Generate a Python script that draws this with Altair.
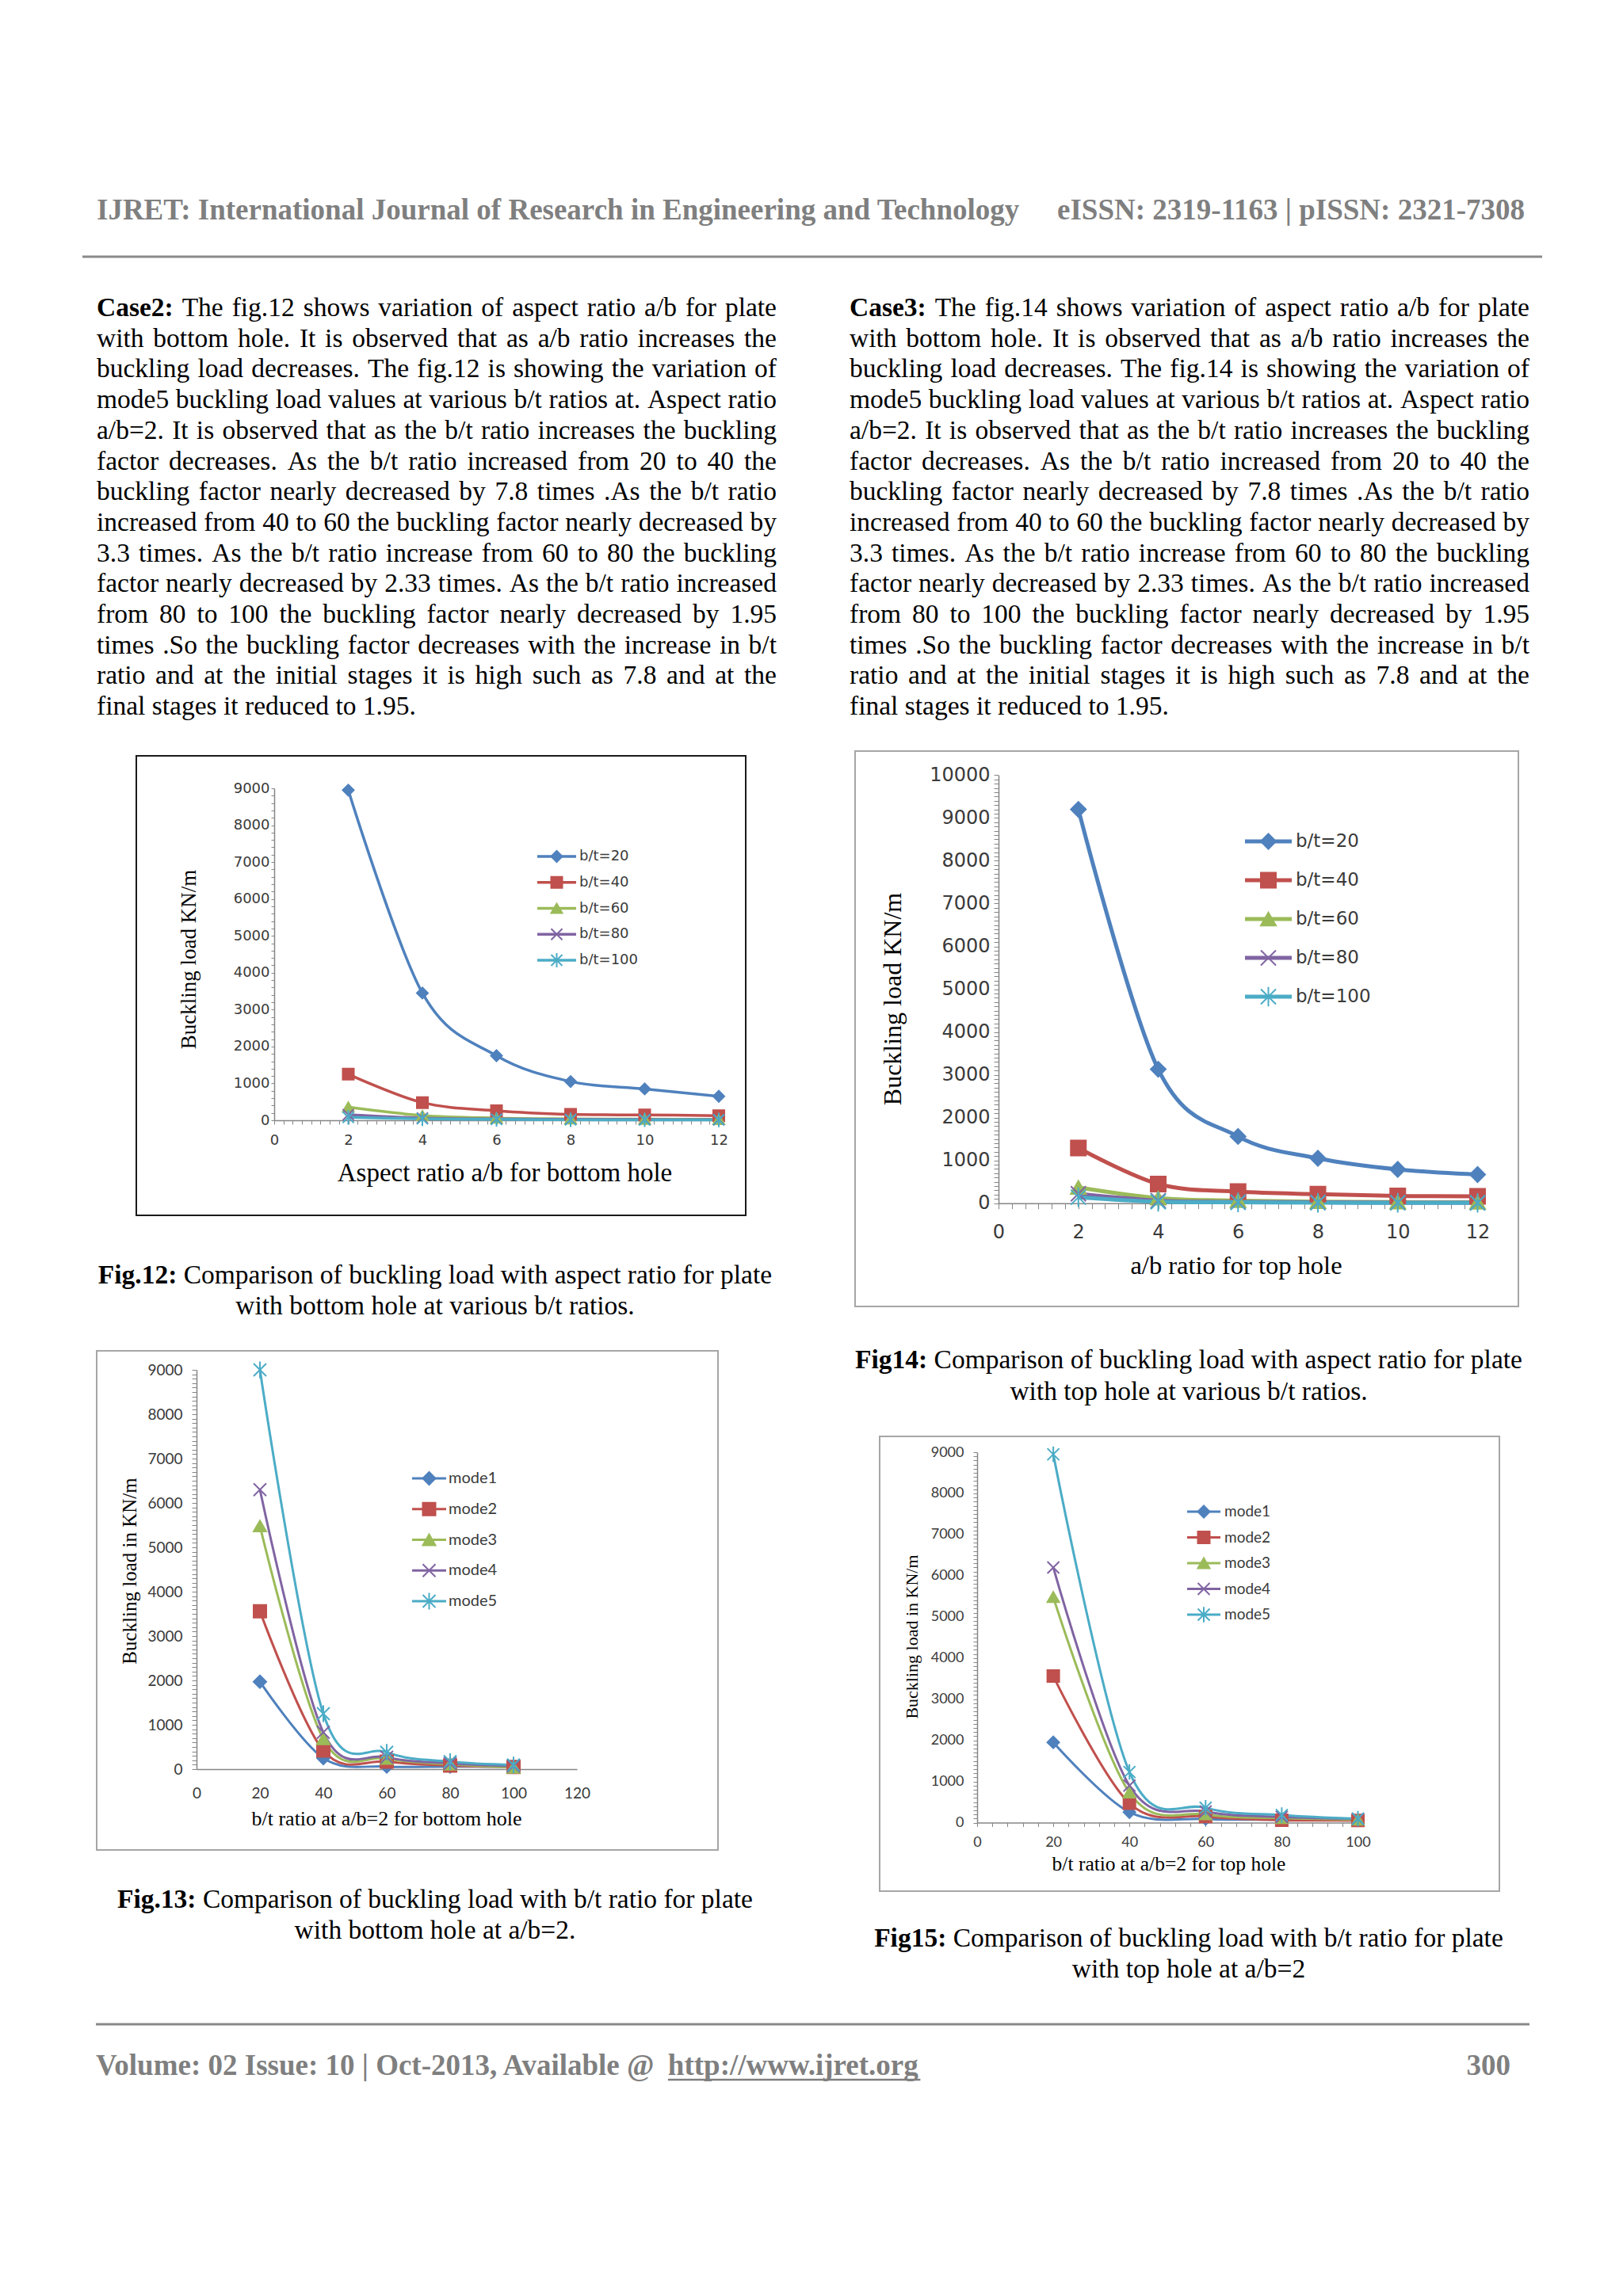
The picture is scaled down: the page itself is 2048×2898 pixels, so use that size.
import altair as alt
import pandas as pd

W, H = 2032, 2882          # chart size (page minus the 8px body margin)
OFF = 8                     # page margin

# ---------------- chart values ----------------
ab_ratio = [2, 4, 6, 8, 10, 12]
bt_ratio = [20, 40, 60, 80, 100]
bt_series = ["b/t=20", "b/t=40", "b/t=60", "b/t=80", "b/t=100"]
mode_series = ["mode1", "mode2", "mode3", "mode4", "mode5"]

fig12_bt20 = [8950, 3450, 1750, 1050, 850, 650]
fig12_bt40 = [1250, 480, 260, 160, 145, 125]
fig12_bt60 = [360, 130, 60, 40, 30, 25]
fig12_bt80 = [150, 60, 35, 25, 20, 15]
fig12_bt100 = [80, 40, 25, 15, 12, 10]

fig14_bt20 = [9200, 3130, 1560, 1050, 790, 670]
fig14_bt40 = [1290, 450, 270, 210, 170, 160]
fig14_bt60 = [370, 120, 60, 35, 25, 20]
fig14_bt80 = [220, 60, 30, 20, 15, 12]
fig14_bt100 = [140, 35, 20, 12, 10, 8]

fig13_mode1 = [1970, 250, 60, 60, 50]
fig13_mode2 = [3560, 420, 170, 80, 50]
fig13_mode3 = [5480, 680, 240, 110, 40]
fig13_mode4 = [6300, 830, 270, 130, 70]
fig13_mode5 = [9000, 1250, 380, 170, 95]

fig15_mode1 = [1950, 255, 90, 70, 55]
fig15_mode2 = [3560, 470, 150, 60, 55]
fig15_mode3 = [5480, 730, 200, 110, 70]
fig15_mode4 = [6200, 900, 270, 140, 90]
fig15_mode5 = [8950, 1230, 360, 185, 95]

# ---------------- page texts ----------------
header_left = "IJRET: International Journal of Research in Engineering and Technology"
header_right = "eISSN: 2319-1163 | pISSN: 2321-7308"
footer_left = "Volume: 02 Issue: 10 | Oct-2013, Available @ "
footer_link = "http://www.ijret.org"
footer_page = "300"

case2_lines = [
    "Case2: The fig.12 shows variation of aspect ratio a/b for plate",
    "with bottom hole. It is observed that as a/b ratio increases the",
    "buckling load decreases. The fig.12 is showing the variation of",
    "mode5 buckling load values at various b/t ratios at. Aspect ratio",
    "a/b=2. It is observed that as the b/t ratio increases the buckling",
    "factor decreases. As the b/t ratio increased from 20 to 40 the",
    "buckling factor nearly decreased by 7.8 times .As the b/t ratio",
    "increased from 40 to 60 the buckling factor nearly decreased by",
    "3.3 times. As the b/t ratio increase from 60 to 80 the buckling",
    "factor nearly decreased by 2.33 times. As the b/t ratio increased",
    "from 80 to 100 the buckling factor nearly decreased by 1.95",
    "times .So the buckling factor decreases with the increase in b/t",
    "ratio and at the initial stages it is high such as 7.8 and at the",
    "final stages it reduced to 1.95.",
]
case3_lines = [
    "Case3: The fig.14 shows variation of aspect ratio a/b for plate",
    "with bottom hole. It is observed that as a/b ratio increases the",
    "buckling load decreases. The fig.14 is showing the variation of",
] + case2_lines[3:]

caption12 = ["Fig.12:", "Comparison of buckling load with aspect ratio for plate",
             "with bottom hole at various b/t ratios."]
caption13 = ["Fig.13:", "Comparison of buckling load with b/t ratio for plate",
             "with bottom hole at a/b=2."]
caption14 = ["Fig14:", "Comparison of buckling load with aspect ratio for plate",
             "with top hole at various b/t ratios."]
caption15 = ["Fig15:", "Comparison of buckling load with b/t ratio for plate",
             "with top hole at a/b=2"]

# ---------------- Times metrics (per 1000 em) for layout ----------------
def _mk(groups):
    d = {}
    for w, chars in groups.items():
        for ch in chars:
            d[ch] = w
    return d

TR = _mk({250: " ,.", 278: "ijlt:;/", 333: "fr()-I!", 389: "sJ", 444: "acez?",
          500: "bdghknopquvxy0123456789*", 556: "FPS", 564: "=+", 611: "ELTZ",
          667: "BCR", 722: "wADGHKNOQUVXY", 778: "m&", 889: "M", 944: "W", 921: "@"})
TB = _mk({250: " ,.", 278: "il/", 333: "fjt:-", 389: "sI", 444: "cer",
          500: "agovyxJ0123456789", 556: "bdhnpukqS", 611: "FP", 667: "ETBL",
          722: "wACDNRVK", 778: "O", 833: "m", 930: "@", 220: "|"})


def tw(s, bold=False):
    m = TB if bold else TR
    return sum(m.get(ch, 500) for ch in s) / 1000.0


# ---------------- scales / helpers ----------------
COLORS = ["#4F81BD", "#C0504D", "#9BBB59", "#8064A2", "#4BACC6"]
X_PATH = "M-1,-1L1,1M-1,1L1,-1"
STAR_PATH = "M-1,-1L1,1M-1,1L1,-1M0,-1.3L0,1.3"
SHAPES = ["diamond", "square", "triangle-up", X_PATH, STAR_PATH]
ALL_SERIES = bt_series + mode_series
color_scale = alt.Scale(domain=ALL_SERIES, range=COLORS * 2)
shape_scale = alt.Scale(domain=ALL_SERIES, range=SHAPES * 2)

ONE = pd.DataFrame({"k": [0]})
SERIF = "Liberation Serif"
AXC = "#868686"


def pxs():
    return alt.Scale(domain=[0, W], range=[0, W], nice=False, zero=False)


def pys():
    return alt.Scale(domain=[0, H], range=[0, H], nice=False, zero=False)


def tlayer(rows, **kw):
    df = pd.DataFrame(rows)
    return alt.Chart(df).mark_text(baseline="alphabetic", **kw).encode(
        x=alt.X("x:Q", scale=pxs(), axis=None),
        y=alt.Y("y:Q", scale=pys(), axis=None),
        text="t:N",
    )


def hrule(x0, x1, y, color, width):
    return alt.Chart(ONE).mark_rule(color=color, strokeWidth=width).encode(
        x=alt.value(x0 - OFF), x2=alt.value(x1 - OFF), y=alt.value(y - OFF))


def paragraph(lines, x0, width, base0, lead, fs):
    reg, bold = [], []
    for i, line in enumerate(lines):
        words = line.split(" ")
        isb = [(i == 0 and j == 0) for j in range(len(words))]
        widths = [tw(w, b) * fs for w, b in zip(words, isb)]
        if i == len(lines) - 1 or len(words) == 1:
            gap = 0.25 * fs
        else:
            gap = max((width - sum(widths)) / (len(words) - 1), 0.15 * fs)
        x = x0
        for w, ww, b in zip(words, widths, isb):
            row = {"x": x - OFF, "y": base0 + lead * i - OFF, "t": w}
            (bold if b else reg).append(row)
            x += ww + gap
    return reg, bold


def caption_rows(cap, cx, b1, b2, fs):
    wb = tw(cap[0], True) * fs
    wr = tw(cap[1]) * fs
    sp = 0.25 * fs
    start = cx - (wb + sp + wr) / 2
    return ({"x": start - OFF, "y": b1 - OFF, "t": cap[0]},
            {"x": start + wb + sp - OFF, "y": b1 - OFF, "t": cap[1]},
            {"x": cx - OFF, "y": b2 - OFF, "t": cap[2]})


def figure(cfg, xvals, series, values):
    rows = []
    for s, vals in zip(series, values):
        for xv, v in zip(xvals, vals):
            rows.append({"x": xv, "v": v, "series": s})
    df = pd.DataFrame(rows)
    xs = alt.Scale(domain=cfg["xdom"], range=[cfg["x0"] - OFF, cfg["x1"] - OFF], nice=False, zero=False)
    ys = alt.Scale(domain=cfg["ydom"], range=[cfg["y0"] - OFF, cfg["y1"] - OFF], nice=False, zero=False)
    common = dict(domainColor=AXC, tickColor=AXC, domainWidth=1.5, tickWidth=1, grid=False,
                  title=None, labelColor="#3a3a3a", labelFont=cfg["tick_font"],
                  labelFontSize=cfg["tick_fs"], labelOverlap=False, labelFlush=False, zindex=0)
    xaxis = alt.Axis(orient="bottom", offset=(cfg["y0"] - OFF) - H, values=list(cfg["xticks"]),
                     labelExpr=f"({cfg['xlab']}) ? format(datum.value, 'd') : ''",
                     tickSize=cfg["x_tick"], labelPadding=cfg["x_pad"], **common)
    yaxis = alt.Axis(orient="left", offset=-(cfg["x0"] - OFF), values=list(cfg["yticks"]),
                     labelExpr="(datum.value % 1000 == 0) ? format(datum.value, 'd') : ''",
                     tickSize=cfg["y_tick"], labelPadding=cfg["y_pad"], **common)
    color = alt.Color("series:N", scale=color_scale, legend=None)
    stroke = alt.Stroke("series:N", scale=color_scale, legend=None)
    shape = alt.Shape("series:N", scale=shape_scale, legend=None)

    bx0, by0, bx1, by1 = cfg["box"]
    box = alt.Chart(ONE).mark_rect(fill="white", fillOpacity=0, stroke=cfg["box_color"],
                                   strokeWidth=2).encode(
        x=alt.value(bx0 - OFF), x2=alt.value(bx1 - OFF), y=alt.value(by0 - OFF), y2=alt.value(by1 - OFF))
    line = alt.Chart(df).mark_line(interpolate="cardinal", strokeWidth=cfg["lw"]).encode(
        x=alt.X("x:Q", scale=xs, axis=xaxis), y=alt.Y("v:Q", scale=ys, axis=yaxis), color=color)
    pts = alt.Chart(df).mark_point(filled=True, size=cfg["ms"] ** 2, strokeWidth=2, opacity=1).encode(
        x=alt.X("x:Q", scale=xs, axis=None), y=alt.Y("v:Q", scale=ys, axis=None),
        color=color, stroke=stroke, shape=shape)

    leg = pd.DataFrame({"series": series, "i": list(range(len(series)))})
    ly = alt.Y("i:Q", scale=alt.Scale(domain=[0, len(series) - 1],
                                      range=[cfg["leg_y0"] - OFF, cfg["leg_y1"] - OFF],
                                      nice=False, zero=False), axis=None)
    lrule = alt.Chart(leg).mark_rule(strokeWidth=cfg["lw"]).encode(
        x=alt.value(cfg["leg_x0"] - OFF), x2=alt.value(cfg["leg_x1"] - OFF), y=ly, color=color)
    lpts = alt.Chart(leg).mark_point(filled=True, size=cfg["ms"] ** 2, strokeWidth=2, opacity=1).encode(
        x=alt.value((cfg["leg_x0"] + cfg["leg_x1"]) / 2 - OFF), y=ly, color=color, stroke=stroke, shape=shape)
    ltxt = alt.Chart(leg).mark_text(align="left", baseline="middle", font=cfg["leg_font"],
                                    fontSize=cfg["leg_fs"], color="#3a3a3a").encode(
        x=alt.value(cfg["leg_tx"] - OFF), y=ly, text="series:N")

    yt = alt.Chart(ONE).mark_text(text=cfg["ytitle"], angle=270, font=SERIF, fontSize=cfg["ytitle_fs"],
                                  align="center", baseline="middle", color="#000").encode(
        x=alt.value(cfg["ytitle_xy"][0] - OFF), y=alt.value(cfg["ytitle_xy"][1] - OFF))
    xt = alt.Chart(ONE).mark_text(text=cfg["xtitle"], font=SERIF, fontSize=cfg["xtitle_fs"],
                                  align="center", baseline="middle", color="#000").encode(
        x=alt.value(cfg["xtitle_xy"][0] - OFF), y=alt.value(cfg["xtitle_xy"][1] - OFF))
    return [box, line, pts, lrule, lpts, ltxt, yt, xt]


fig12_cfg = dict(
    box=(172, 954, 941, 1534), box_color="#1a1a1a",
    xdom=[0, 12], x0=346, x1=907, ydom=[0, 9000], y0=1414, y1=995,
    xticks=[i * 0.25 for i in range(49)], xlab="datum.value % 2 == 0",
    yticks=range(0, 9001, 200), x_tick=5, x_pad=11, y_tick=4, y_pad=2,
    tick_font="DejaVu Sans", tick_fs=18, lw=3.5, ms=14,
    leg_x0=678, leg_x1=727, leg_tx=731, leg_y0=1081, leg_y1=1212, leg_font="DejaVu Sans", leg_fs=18,
    ytitle="Buckling load KN/m", ytitle_xy=(239, 1211), ytitle_fs=27,
    xtitle="Aspect ratio a/b for bottom hole", xtitle_xy=(637, 1481), xtitle_fs=33,
)
fig13_cfg = dict(
    box=(122, 1705, 906, 2335), box_color="#a6a6a6",
    xdom=[0, 120], x0=248, x1=728, ydom=[0, 9000], y0=2233, y1=1729,
    xticks=range(0, 121, 20), xlab="true",
    yticks=range(0, 9001, 100), x_tick=0, x_pad=21, y_tick=6, y_pad=12,
    tick_font="Lato", tick_fs=19, lw=3, ms=16,
    leg_x0=520, leg_x1=563, leg_tx=566, leg_y0=1866, leg_y1=2021, leg_font="Lato", leg_fs=20,
    ytitle="Buckling  load in KN/m", ytitle_xy=(164, 1983), ytitle_fs=25,
    xtitle="b/t ratio at a/b=2 for bottom hole", xtitle_xy=(488, 2296), xtitle_fs=26,
)
fig14_cfg = dict(
    box=(1079, 948, 1916, 1649), box_color="#a6a6a6",
    xdom=[0, 12], x0=1260, x1=1864.5, ydom=[0, 10000], y0=1518.7, y1=978.4,
    xticks=[i / 3 for i in range(37)], xlab="datum.value % 2 == 0",
    yticks=range(0, 10001, 100), x_tick=7, x_pad=18, y_tick=6, y_pad=5,
    tick_font="DejaVu Sans", tick_fs=24, lw=5, ms=19,
    leg_x0=1571, leg_x1=1630, leg_tx=1635, leg_y0=1062, leg_y1=1258, leg_font="DejaVu Sans", leg_fs=23,
    ytitle="Buckling  load KN/m", ytitle_xy=(1127, 1261), ytitle_fs=32,
    xtitle="a/b ratio for  top hole", xtitle_xy=(1560, 1598), xtitle_fs=32.5,
)
fig15_cfg = dict(
    box=(1110, 1813, 1892, 2387), box_color="#a6a6a6",
    xdom=[0, 100], x0=1233, x1=1713.5, ydom=[0, 9000], y0=2300.5, y1=1833,
    xticks=range(0, 101, 4), xlab="datum.value % 20 == 0",
    yticks=range(0, 9001, 100), x_tick=5, x_pad=11, y_tick=5, y_pad=12,
    tick_font="Lato", tick_fs=18, lw=3, ms=15,
    leg_x0=1498, leg_x1=1540, leg_tx=1545, leg_y0=1908, leg_y1=2038, leg_font="Lato", leg_fs=19,
    ytitle="Buckling load in KN/m", ytitle_xy=(1151, 2066), ytitle_fs=22,
    xtitle="b/t ratio at a/b=2 for top hole", xtitle_xy=(1475, 2353), xtitle_fs=25.5,
)

layers = []

# header / footer
HF = 37
GRAY = "#7f7f7f"
layers.append(tlayer([{"x": 122 - OFF, "y": 277 - OFF, "t": header_left}], align="left",
                     font=SERIF, fontSize=HF, fontWeight="bold", color=GRAY))
layers.append(tlayer([{"x": 1924 - OFF, "y": 277 - OFF, "t": header_right}], align="right",
                     font=SERIF, fontSize=HF, fontWeight="bold", color=GRAY))
layers.append(hrule(104, 1946, 324, "#8a8a8a", 3))
layers.append(hrule(121, 1930, 2555, "#8a8a8a", 3))
link_x = 121 + tw(footer_left, True) * HF
link_w = tw(footer_link, True) * HF
layers.append(tlayer([{"x": 121 - OFF, "y": 2619 - OFF, "t": footer_left},
                      {"x": link_x - OFF, "y": 2619 - OFF, "t": footer_link}], align="left",
                     font=SERIF, fontSize=HF, fontWeight="bold", color=GRAY))
layers.append(hrule(link_x, link_x + link_w, 2625, GRAY, 2.5))
layers.append(tlayer([{"x": 1906 - OFF, "y": 2619 - OFF, "t": footer_page}], align="right",
                     font=SERIF, fontSize=HF, fontWeight="bold", color=GRAY))

# paragraphs
FS = 33.5
reg2, bold2 = paragraph(case2_lines, 122, 858, 399, 38.7, FS)
reg3, bold3 = paragraph(case3_lines, 1072, 858, 399, 38.7, FS)
layers.append(tlayer(reg2 + reg3, align="left", font=SERIF, fontSize=FS, color="#000"))
layers.append(tlayer(bold2 + bold3, align="left", font=SERIF, fontSize=FS, fontWeight="bold", color="#000"))

# figures
layers += figure(fig12_cfg, ab_ratio, bt_series,
                 [fig12_bt20, fig12_bt40, fig12_bt60, fig12_bt80, fig12_bt100])
layers += figure(fig14_cfg, ab_ratio, bt_series,
                 [fig14_bt20, fig14_bt40, fig14_bt60, fig14_bt80, fig14_bt100])
layers += figure(fig13_cfg, bt_ratio, mode_series,
                 [fig13_mode1, fig13_mode2, fig13_mode3, fig13_mode4, fig13_mode5])
layers += figure(fig15_cfg, bt_ratio, mode_series,
                 [fig15_mode1, fig15_mode2, fig15_mode3, fig15_mode4, fig15_mode5])

# captions
caps = [caption_rows(caption12, 549, 1620, 1659, FS),
        caption_rows(caption13, 549, 2408, 2447, FS),
        caption_rows(caption14, 1500, 1727, 1767, FS),
        caption_rows(caption15, 1500, 2457, 2496, FS)]
layers.append(tlayer([c[0] for c in caps], align="left", font=SERIF, fontSize=FS,
                     fontWeight="bold", color="#000"))
layers.append(tlayer([c[1] for c in caps], align="left", font=SERIF, fontSize=FS, color="#000"))
layers.append(tlayer([c[2] for c in caps], align="center", font=SERIF, fontSize=FS, color="#000"))

chart = (
    alt.layer(*layers)
    .resolve_scale(x="independent", y="independent")
    .properties(width=W, height=H, padding=0, autosize=alt.AutoSizeParams(type="none"),
                background="white")
    .configure_view(stroke=None)
)

chart.save("out.html", embed_options={"renderer": "svg", "actions": False})
